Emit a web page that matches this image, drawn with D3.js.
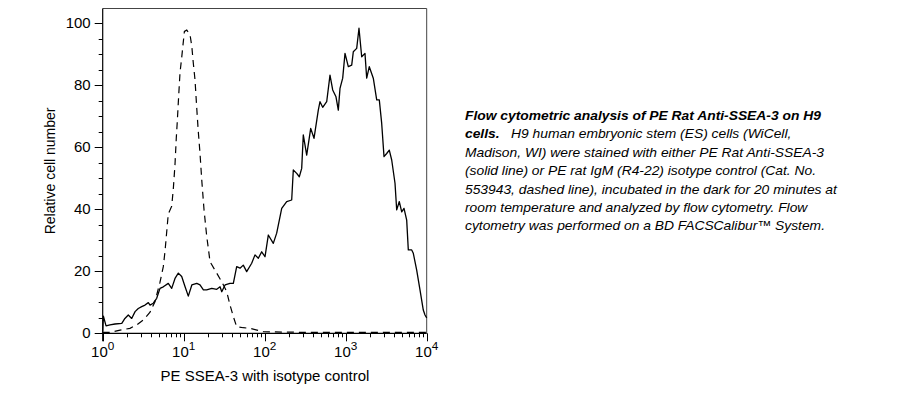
<!DOCTYPE html>
<html>
<head>
<meta charset="utf-8">
<script src="https://cdn.jsdelivr.net/npm/d3@7"></script>
<style>
  body { margin: 0; background: #fff; }
  svg text { font-family: Arial, "Liberation Sans", sans-serif; }
</style>
</head>
<body>
<div id="chart"></div>
<script>
// PE SSEA-3 stained (solid line)
const ssea3X = [1.0, 1.02, 1.1, 1.23, 1.42, 1.72, 1.88, 2.07, 2.28, 2.51, 2.75, 3.03, 3.33, 3.66, 3.84, 4.21, 4.64,
  5.10, 5.60, 6.45, 7.11, 7.81, 8.58, 9.45, 10.4, 11.4, 12.6, 14.5, 15.9, 17.5, 19.2, 22.2, 25.6, 28.1, 29.5,
  32.4, 37.3, 41.0, 45.1, 49.6, 54.4, 59.9, 69.1, 75.9, 83.4, 91.8, 100.9, 110.8, 127.7, 140.6, 162.2, 186.9,
  215.4, 225.5, 248.4, 267.4, 286.3, 299.6, 330, 369.8, 406.2, 458.9, 481.6, 520, 582.6, 639.9, 691, 758.7,
  810.3, 850.5, 918.2, 980.4, 1077, 1186, 1241, 1367, 1459, 1576, 1730, 1816, 1955, 2191, 2414, 2599, 2782,
  2971, 3207, 3452, 3698, 4062, 4263, 4589, 4914, 5246, 5662, 5928, 6529, 6834, 7523, 8263, 9078, 9528, 10000];
const ssea3Y = [0.5, 5.5, 2.4, 2.7, 3.0, 3.2, 4.8, 5.9, 4.8, 7.0, 8.0, 8.6, 9.1, 9.9, 9.1, 9.7, 11.3,
  14.5, 15.0, 16.1, 14.5, 17.7, 19.4, 18.3, 15.0, 12.0, 15.6, 16.1, 15.6, 14.0, 14.0, 14.5, 14.2, 15.0, 13.4,
  15.6, 16.1, 16.1, 21.5, 21.0, 22.0, 19.9, 22.6, 25.3, 24.2, 26.3, 24.7, 31.7, 29.0, 32.3, 40.3, 42.5,
  43.0, 52.7, 51.6, 50.5, 53.2, 64.0, 57.5, 66.1, 62.9, 72.0, 74.7, 72.9, 74.7, 83.3, 78.5, 76.3,
  72.0, 79.0, 82.3, 90.3, 86.0, 86.5, 90.8, 91.9, 98.4, 89.2, 90.3, 82.3, 86.0, 82.3, 75.3, 75.3, 67.7,
  57.0, 58.0, 59.1, 55.9, 48.4, 39.8, 42.5, 39.2, 40.3, 36.5, 26.9, 26.9, 25.8, 20.4, 14.0, 7.5, 5.9, 5.0];

// PE rat IgM isotype control (dashed line)
const isoX = [1.0, 1.23, 1.64, 2.17, 2.63, 3.17, 3.84, 4.42, 5.10, 5.60, 5.88, 6.45, 7.11, 7.44, 7.81, 8.10,
  8.34, 8.58, 9.00, 9.45, 9.89, 10.2, 10.9, 11.96, 12.6, 13.1, 13.8, 14.5, 15.1, 15.9, 16.7, 17.8, 19.2, 20.7,
  21.1, 24.3, 29.5, 34.0, 37.3, 41.0, 45.1, 54.4, 65.8, 96.1, 300, 1000, 3000, 10000];
const isoY = [0.3, 0.3, 1.0, 1.6, 2.7, 4.3, 6.8, 10.2, 16.5, 21.5, 26.5, 38.5, 41.0, 46.5, 54.5, 63.0,
  68.5, 74.5, 84.0, 89.0, 94.0, 97.4, 97.8, 96.4, 92.5, 87.5, 81.7, 72.5, 65.5, 58.0, 49.5, 40.0, 31.5, 25.0,
  23.1, 20.4, 16.6, 13.4, 9.1, 5.4, 2.1, 1.8, 1.6, 0.5, 0.3, 0.3, 0.3, 0.3];

const xDecades = [1, 10, 100, 1000, 10000];
const yTicks = [0, 20, 40, 60, 80, 100];

const captionLines = [
  [["Flow cytometric analysis of PE Rat Anti-SSEA-3 on H9", true]],
  [["cells.", true], ["   H9 human embryonic stem (ES) cells (WiCell,", false]],
  [["Madison, WI) were stained with either PE Rat Anti-SSEA-3", false]],
  [["(solid line) or PE rat IgM (R4-22) isotype control (Cat. No.", false]],
  [["553943, dashed line), incubated in the dark for 20 minutes at", false]],
  [["room temperature and analyzed by flow cytometry. Flow", false]],
  [["cytometry was performed on a BD FACSCalibur\u2122 System.", false]]
];

const width = 920, height = 397;
const stretch = 1.07; // the original text is a bit wider than Arial
const svg = d3.select("#chart").append("svg")
  .attr("width", width)
  .attr("height", height);

const x = d3.scaleLog().domain([1, 10000]).range([102.7, 426.7]);
const y = d3.scaleLinear().domain([0, 100]).range([333.3, 23.3]);
const frameTop = 8.5;

// frame (top + right)
svg.append("path")
  .attr("d", `M${x(1)},${frameTop}H${x(10000)}V${y(0)}`)
  .attr("fill", "none")
  .attr("stroke", "#444")
  .attr("stroke-width", 1);

// y axis
const yMinor = d3.range(0, 101, 5);
const gy = svg.append("g").attr("stroke", "#000");
gy.append("line")
  .attr("x1", x(1)).attr("x2", x(1))
  .attr("y1", frameTop).attr("y2", y(0) + 8)
  .attr("stroke-width", 1.2);
gy.selectAll("line.tick")
  .data(yMinor)
  .join("line")
  .attr("class", "tick")
  .attr("x1", d => x(1) - (d % 20 === 0 ? 8 : 4))
  .attr("x2", x(1))
  .attr("y1", d => Math.round(y(d)) + 0.5)
  .attr("y2", d => Math.round(y(d)) + 0.5);
svg.append("g").selectAll("text")
  .data(yTicks)
  .join("text")
  .attr("transform", d => `translate(${x(1) - 12},${y(d) + 5}) scale(${stretch},1)`)
  .attr("text-anchor", "end")
  .attr("font-size", 14)
  .attr("fill", "#000")
  .text(d => d);

// x axis
const xMinor = [];
xDecades.slice(0, -1).forEach(dec => d3.range(2, 10).forEach(k => xMinor.push(dec * k)));
const gx = svg.append("g").attr("stroke", "#000");
gx.append("line")
  .attr("x1", x(1) - 1).attr("x2", x(10000))
  .attr("y1", y(0)).attr("y2", y(0))
  .attr("stroke-width", 1.2);
gx.selectAll("line.major")
  .data(xDecades)
  .join("line")
  .attr("class", "major")
  .attr("x1", d => Math.round(x(d)) + 0.5)
  .attr("x2", d => Math.round(x(d)) + 0.5)
  .attr("y1", y(0))
  .attr("y2", y(0) + 8);
gx.selectAll("line.minor")
  .data(xMinor)
  .join("line")
  .attr("class", "minor")
  .attr("x1", d => Math.round(x(d)) + 0.5)
  .attr("x2", d => Math.round(x(d)) + 0.5)
  .attr("y1", y(0))
  .attr("y2", y(0) + 4);
const xl = svg.append("g").selectAll("text")
  .data(xDecades)
  .join("text")
  .attr("transform", d => `translate(${x(d)},357) scale(${stretch},1)`)
  .attr("text-anchor", "middle")
  .attr("font-size", 14)
  .attr("fill", "#000");
xl.append("tspan").text("10");
xl.append("tspan")
  .attr("dy", -7)
  .attr("font-size", 11)
  .text(d => Math.round(Math.log10(d)));

// axis titles
svg.append("text")
  .attr("transform", `translate(265,381) scale(${stretch},1)`)
  .attr("text-anchor", "middle")
  .attr("font-size", 14)
  .text("PE SSEA-3 with isotype control");
svg.append("text")
  .attr("transform", `translate(55,${(y(0) + frameTop) / 2}) rotate(-90)`)
  .attr("text-anchor", "middle")
  .attr("font-size", 14)
  .text("Relative cell number");

// curves
const line = d3.line()
  .x(d => x(d[0]))
  .y(d => y(d[1]));

svg.append("path")
  .datum(d3.zip(isoX, isoY))
  .attr("d", line)
  .attr("fill", "none")
  .attr("stroke", "#000")
  .attr("stroke-width", 1.2)
  .attr("stroke-dasharray", "7,5");

svg.append("path")
  .datum(d3.zip(ssea3X, ssea3Y))
  .attr("d", line)
  .attr("fill", "none")
  .attr("stroke", "#000")
  .attr("stroke-width", 1.3)
  .attr("stroke-linejoin", "round");

// caption
const cap = svg.append("g")
  .attr("transform", `translate(465,0) scale(1.065,1)`)
  .attr("font-size", 13)
  .attr("font-style", "italic");
cap.selectAll("text")
  .data(captionLines)
  .join("text")
  .attr("x", 0)
  .attr("y", (d, i) => 120 + i * 18.4)
  .attr("xml:space", "preserve")
  .selectAll("tspan")
  .data(d => d)
  .join("tspan")
  .attr("font-weight", d => d[1] ? "bold" : "normal")
  .text(d => d[0]);
</script>
</body>
</html>
